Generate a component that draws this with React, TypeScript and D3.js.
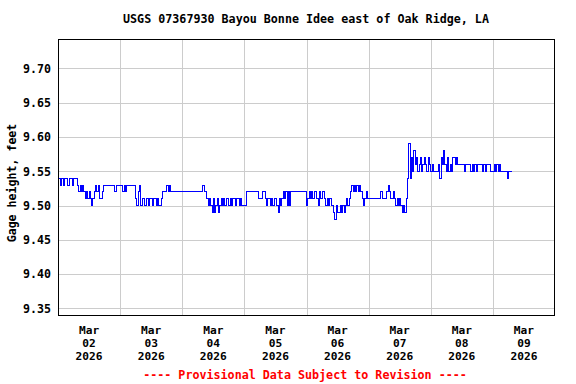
import React from 'react';
import * as d3 from 'd3';

// Gage height readings, every 30 minutes starting at midnight of each day
const mar02 = [9.54, 9.54, 9.53, 9.54, 9.53, 9.54, 9.54, 9.53, 9.53, 9.54, 9.54, 9.53, 9.54, 9.54, 9.54,
  9.53, 9.52, 9.53, 9.52, 9.53, 9.52, 9.51, 9.52, 9.51, 9.52, 9.51, 9.50,
  9.51, 9.52, 9.53, 9.52, 9.53, 9.51, 9.51, 9.52, 9.53, 9.53,
  9.53, 9.53, 9.53, 9.53, 9.53, 9.53, 9.53, 9.52, 9.53, 9.53, 9.53];
const mar03 = [9.53, 9.53, 9.52, 9.53, 9.52, 9.53, 9.53, 9.53, 9.53, 9.53, 9.53, 9.53,
  9.51, 9.50, 9.52, 9.53, 9.50, 9.51,
  9.51, 9.50, 9.51, 9.51, 9.50, 9.51, 9.51, 9.50, 9.51, 9.51, 9.50, 9.51, 9.50, 9.50,
  9.51, 9.52, 9.52, 9.52, 9.53, 9.52, 9.53, 9.52,
  9.52, 9.52, 9.52, 9.52, 9.52, 9.52, 9.52, 9.52];
const mar04 = [9.52, 9.52, 9.52, 9.52, 9.52, 9.52, 9.52, 9.52, 9.52, 9.52, 9.52, 9.52, 9.52, 9.52, 9.52, 9.52,
  9.53, 9.52, 9.52,
  9.51, 9.50, 9.51, 9.50, 9.49, 9.51, 9.49, 9.50, 9.51, 9.49, 9.50, 9.51, 9.50,
  9.51, 9.50, 9.51, 9.51, 9.50, 9.51, 9.50, 9.51, 9.51, 9.50, 9.51, 9.51, 9.50, 9.51, 9.50,
  9.50];
const mar05 = [9.50, 9.50, 9.52, 9.52, 9.52, 9.52, 9.52, 9.52, 9.52, 9.52, 9.52,
  9.51, 9.51, 9.51, 9.52, 9.52, 9.51, 9.50, 9.51,
  9.51, 9.50, 9.51, 9.50, 9.51, 9.51, 9.50, 9.49, 9.51,
  9.50, 9.51, 9.52, 9.51, 9.52, 9.50, 9.52, 9.50, 9.52,
  9.52, 9.52, 9.52, 9.52, 9.52, 9.52, 9.52, 9.52, 9.52, 9.52, 9.52];
const mar06 = [9.50, 9.51, 9.52, 9.51, 9.52, 9.51, 9.52, 9.52, 9.51, 9.50,
  9.52, 9.51, 9.52, 9.52, 9.51, 9.50, 9.51, 9.50, 9.51, 9.50, 9.50,
  9.49, 9.48, 9.50, 9.49, 9.49, 9.50, 9.49, 9.50, 9.49, 9.50, 9.51, 9.50, 9.51,
  9.52, 9.53, 9.52, 9.53, 9.52, 9.53, 9.52, 9.53, 9.52,
  9.51, 9.50, 9.51, 9.52, 9.51];
const mar07 = [9.51, 9.51, 9.51, 9.51, 9.51, 9.51, 9.51, 9.51, 9.51,
  9.52, 9.52, 9.51, 9.51, 9.51, 9.52, 9.53, 9.52,
  9.51, 9.51, 9.52, 9.51, 9.50, 9.51, 9.50, 9.51, 9.50,
  9.49, 9.50, 9.49, 9.51, 9.54,
  9.59, 9.54, 9.57, 9.55, 9.58, 9.56, 9.57, 9.55, 9.56, 9.57, 9.55, 9.56, 9.57, 9.56, 9.55, 9.57, 9.56];
const mar08 = [9.55, 9.56, 9.55, 9.55, 9.55, 9.55,
  9.56, 9.54, 9.57, 9.56, 9.58, 9.56,
  9.55, 9.57, 9.55, 9.56, 9.55, 9.57,
  9.57, 9.56, 9.57,
  9.56, 9.56, 9.56, 9.56, 9.56, 9.55, 9.56, 9.56, 9.56, 9.56, 9.55, 9.56, 9.55, 9.56,
  9.55, 9.56, 9.56, 9.56, 9.56, 9.55, 9.56, 9.55, 9.56, 9.56, 9.56, 9.55, 9.55];
const mar09 = [9.55, 9.56, 9.55, 9.56, 9.55, 9.56, 9.55, 9.55, 9.55, 9.55, 9.55, 9.54, 9.55, 9.55, 9.55, 9.55];

const dayLabels = ['02', '03', '04', '05', '06', '07', '08', '09'];
const yTicks = [9.35, 9.4, 9.45, 9.5, 9.55, 9.6, 9.65, 9.7];

const width = 576;
const height = 384;
const margin = { top: 39, right: 21, bottom: 68, left: 58 };
const font = '"DejaVu Sans Mono", monospace';

const start = Date.UTC(2026, 2, 2);
const HALF_HOUR = 30 * 60 * 1000;
const DAY = 24 * 60 * 60 * 1000;

const readings = [...mar02, ...mar03, ...mar04, ...mar05, ...mar06, ...mar07, ...mar08, ...mar09]
  .map((v, i) => ({ t: new Date(start + i * HALF_HOUR), v }));

export default function App() {
  const x = d3.scaleUtc()
    .domain([new Date(start), new Date(start + 8 * DAY)])
    .range([margin.left, width - margin.right]);
  const y = d3.scaleLinear()
    .domain([9.339, 9.743])
    .range([height - margin.bottom, margin.top]);

  const line = d3.line<{ t: Date; v: number }>()
    .x(d => x(d.t))
    .y(d => y(d.v))
    .curve(d3.curveStepAfter);

  const top = margin.top;
  const bottom = height - margin.bottom;
  const left = margin.left;
  const right = width - margin.right;

  const midnights = d3.range(1, 8).map(i => new Date(start + i * DAY));

  return (
    <svg width={width} height={height} style={{ position: 'absolute', left: 0, top: 0, background: '#fff' }}>
      <rect x={0} y={0} width={width} height={height} fill="#fff" />
      <text x={306} y={23} textAnchor="middle" fontFamily={font} fontWeight="bold" fontSize={11.7} fill="#000">
        USGS 07367930 Bayou Bonne Idee east of Oak Ridge, LA
      </text>

      {/* grid */}
      {yTicks.map(t => (
        <line key={'h' + t} x1={left} x2={right} y1={Math.round(y(t)) + 0.5} y2={Math.round(y(t)) + 0.5}
          stroke="#cccccc" strokeWidth={1} />
      ))}
      {midnights.map(d => (
        <line key={'v' + d.getTime()} x1={Math.round(x(d)) + 0.5} x2={Math.round(x(d)) + 0.5} y1={top} y2={bottom}
          stroke="#cccccc" strokeWidth={1} />
      ))}

      <path d={line(readings) || ''} fill="none" stroke="#0000ff" strokeWidth={1} shapeRendering="crispEdges" />

      <rect x={left + 0.5} y={top + 0.5} width={right - left - 1} height={bottom - top - 1}
        fill="none" stroke="#000" strokeWidth={1} />

      {/* y tick labels */}
      {yTicks.map(t => (
        <text key={'yl' + t} x={51} y={y(t)} dy="0.36em" textAnchor="end" fontFamily={font} fontWeight="bold"
          fontSize={11.6} fill="#000">
          {t.toFixed(2)}
        </text>
      ))}
      <text transform={`translate(16, 183) rotate(-90)`} textAnchor="middle" fontFamily={font} fontWeight="bold"
        fontSize={11.6} fill="#000">
        Gage height, feet
      </text>

      {/* x tick labels at noon */}
      {dayLabels.map((lbl, i) => {
        const cx = x(new Date(start + i * DAY + DAY / 2));
        return (
          <g key={'xl' + lbl} fontFamily={font} fontWeight="bold" fontSize={11.2} fill="#000" textAnchor="middle">
            <text x={cx} y={334}>Mar</text>
            <text x={cx} y={347}>{lbl}</text>
            <text x={cx} y={360}>2026</text>
          </g>
        );
      })}

      <text x={305} y={379} textAnchor="middle" fontFamily={font} fontWeight="bold" fontSize={11.7} fill="#ff0000">
        ---- Provisional Data Subject to Revision ----
      </text>
    </svg>
  );
}
